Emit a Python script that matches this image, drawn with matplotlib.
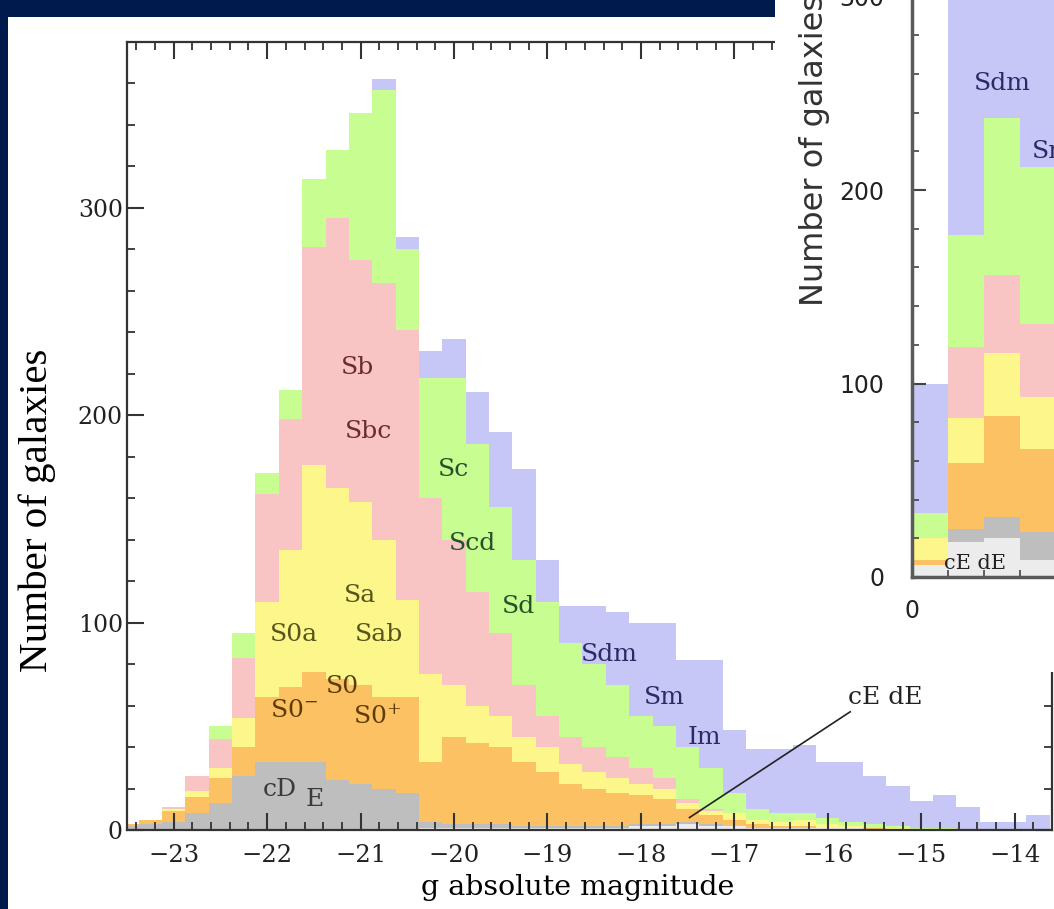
import matplotlib.pyplot as plt
import numpy as np
from matplotlib.patches import Rectangle
from matplotlib.ticker import MultipleLocator

plt.rcParams['font.family'] = 'DejaVu Serif'
plt.rcParams['mathtext.fontset'] = 'dejavuserif'

# main histogram: bins of 0.25 mag, centres -23.5 ... -13.75
mag_centers = np.arange(-23.5, -13.74, 0.25)

n_dE = [0, 0, 0, 0, 0, 0, 0, 0, 0, 0, 0, 0, 0, 1, 1, 1, 1, 1, 1, 1,
        1, 1, 2, 2, 3, 2, 2, 1, 1, 1, 1, 1, 0, 0, 0, 0, 0, 0, 0, 0]
n_E = [2, 3, 4, 8, 13, 26, 33, 33, 33, 24, 22, 20, 18, 3, 2, 2, 2, 1, 1, 1,
       1, 1, 1, 1, 1, 1, 0, 0, 0, 0, 0, 0, 0, 0, 0, 0, 0, 0, 0, 0]
n_S0 = [1, 2, 5, 8, 12, 14, 31, 36, 43, 49, 48, 44, 46, 29, 42, 39, 37, 31, 26, 20,
        18, 16, 14, 12, 6, 4, 3, 2, 1, 1, 0, 0, 1, 0, 0, 0, 0, 0, 0, 0]
n_Sa = [0, 0, 1, 3, 5, 14, 46, 66, 100, 92, 88, 76, 47, 42, 25, 18, 15, 12, 12, 10,
        8, 7, 5, 5, 3, 2, 3, 2, 2, 3, 2, 1, 0, 1, 0, 0, 0, 0, 0, 0]
n_Sb = [0, 0, 1, 7, 14, 29, 52, 63, 105, 130, 117, 124, 130, 85, 70, 55, 40, 25, 15, 13,
        12, 10, 8, 5, 2, 1, 0, 0, 0, 0, 0, 0, 0, 0, 0, 0, 0, 0, 0, 0]
n_Sc = [0, 0, 0, 0, 6, 12, 10, 14, 33, 33, 71, 93, 39, 58, 78, 71, 61, 60, 55, 45,
        40, 35, 25, 25, 25, 20, 10, 5, 4, 3, 3, 2, 2, 1, 1, 1, 0, 0, 0, 0]
n_Sdm = [0, 0, 0, 0, 0, 0, 0, 0, 0, 0, 0, 5, 6, 13, 19, 25, 36, 44, 20, 18,
         28, 35, 45, 50, 42, 52, 30, 29, 31, 33, 27, 29, 23, 19, 13, 16, 11, 4, 4, 7]

layer_names = ["cE dE", "E", "S0", "Sa", "Sb", "Sc", "Sdm"]
layer_colors = ["#ececec", "#bebebe", "#fcc163", "#fdf68b", "#f8c4c4", "#c8fd91", "#c6c6f7"]
layer_counts = [n_dE, n_E, n_S0, n_Sa, n_Sb, n_Sc, n_Sdm]

# inset histogram (only the first bins are visible)
inset_centers = [0.5, 1.5, 2.5, 3.5]
in_dE = [6, 18, 20, 9]
in_E = [0, 7, 11, 14]
in_S0 = [3, 34, 52, 43]
in_Sa = [11, 23, 33, 27]
in_Sb = [0, 37, 40, 38]
in_Sc = [13, 58, 81, 81]
in_Sdm = [67, 150, 120, 120]
inset_counts = [in_dE, in_E, in_S0, in_Sa, in_Sb, in_Sc, in_Sdm]

# type labels: (text, x, y, colour)
type_labels = [
    ("Sb", -21.03, 223, "#6a2c2c"), ("Sbc", -20.92, 192, "#6a2c2c"),
    ("Sc", -20.01, 174, "#25502a"), ("Scd", -19.80, 138, "#25502a"),
    ("Sd", -19.31, 108, "#25502a"),
    ("Sa", -21.01, 113, "#56551c"), ("S0a", -21.71, 94.5, "#56551c"),
    ("Sab", -20.80, 94.5, "#56551c"),
    ("S0", -21.19, 69, "#5e3c08"), ("S0$^{-}$", -21.71, 57.5, "#5e3c08"),
    ("S0$^{+}$", -20.82, 54.5, "#5e3c08"),
    ("cD", -21.86, 19.5, "#3a3a3a"), ("E", -21.49, 14.5, "#3a3a3a"),
    ("Sdm", -18.34, 84.5, "#2a2a66"), ("Sm", -17.75, 64, "#2a2a66"),
    ("Im", -17.32, 44.5, "#2a2a66"),
]

fig = plt.figure(figsize=(10.54, 9.09), dpi=100)
ax = fig.add_axes([127 / 1054, 1 - 830 / 909, 925 / 1054, 788 / 909])

bottom = np.zeros(len(mag_centers))
for name, col, cnt in zip(layer_names, layer_colors, layer_counts):
    ax.bar(mag_centers, cnt, width=0.25, bottom=bottom, color=col, linewidth=0, label=name)
    bottom += np.array(cnt)

for txt, x, y, c in type_labels:
    ax.text(x, y, txt, ha='center', va='center', fontsize=18, color=c)
ax.text(-15.39, 64, "cE dE", ha='center', va='center', fontsize=18, color="#222222")
ax.plot([-15.76, -17.48], [57, 6], color="#222222", lw=1.2)

ax.set_xlim(-23.5, -13.6)
ax.set_ylim(0, 380)
ax.xaxis.set_major_locator(MultipleLocator(1))
ax.xaxis.set_minor_locator(MultipleLocator(0.2))
ax.yaxis.set_major_locator(MultipleLocator(100))
ax.yaxis.set_minor_locator(MultipleLocator(20))
ax.tick_params(which='both', direction='in', top=True, right=True, colors='#333333', labelcolor='#222222')
ax.tick_params(which='major', length=12, width=1.5)
ax.tick_params(which='minor', length=6, width=1.3)
ax.tick_params(axis='x', which='major', labelsize=17.5, pad=10)
ax.tick_params(axis='y', which='major', labelsize=17, pad=3)
for sp in ax.spines.values():
    sp.set_linewidth(1.6)
    sp.set_color('#333333')
ax.set_xlabel("g absolute magnitude", fontsize=20.5)
ax.xaxis.set_label_coords(0.4876, -0.056)
ax.set_ylabel("Number of galaxies", fontsize=29.5, family='Liberation Serif')
ax.yaxis.set_label_coords(-0.077, 0.406)

# white panel of the overlapping inset
fig.patches.append(Rectangle((775 / 1054, 1 - 672 / 909), 1, 1, transform=fig.transFigure,
                             facecolor='white', edgecolor='none', zorder=1))

ins = fig.add_axes([912 / 1054, 1 - 577 / 909, 288 / 1054, 774 / 909], zorder=2)
ins.patch.set_alpha(0)
bottom = np.zeros(len(inset_centers))
for col, cnt in zip(layer_colors, inset_counts):
    ins.bar(inset_centers, cnt, width=1.0, bottom=bottom, color=col, linewidth=0)
    bottom += np.array(cnt)
ins.set_xlim(0, 8)
ins.set_ylim(0, 400)
ins.xaxis.set_major_locator(MultipleLocator(5))
ins.xaxis.set_minor_locator(MultipleLocator(1))
ins.yaxis.set_major_locator(MultipleLocator(100))
ins.yaxis.set_minor_locator(MultipleLocator(20))
ins.tick_params(which='both', direction='in', colors='#444444', labelcolor='#222222')
ins.tick_params(which='major', length=10, width=1.5, labelsize=17)
ins.tick_params(axis='y', which='major', pad=20)
ins.tick_params(axis='x', which='major', pad=16)
ins.tick_params(which='minor', length=5, width=1.2)
for lab in ins.get_xticklabels() + ins.get_yticklabels():
    lab.set_family('DejaVu Sans')
for sp in ins.spines.values():
    sp.set_linewidth(2.5)
    sp.set_color('#5a5a5a')
fig.text(815 / 1054, 1 - 150 / 909, "Number of galaxies", rotation=90, ha='center', va='center',
         fontsize=23, family='DejaVu Sans', color='#333333', zorder=3)
ins.text(2.5, 255, "Sdm", ha='center', va='center', fontsize=18, color="#2a2a66")
ins.text(3.9, 220, "Sm", ha='center', va='center', fontsize=18, color="#2a2a66")
ins.text(1.75, 7, "cE dE", ha='center', va='center', fontsize=15, color="#222222")

# dark frame of the original slide
navy = "#001a4e"
fig.patches.append(Rectangle((0, 0), 8 / 1054, 1, transform=fig.transFigure,
                             facecolor=navy, edgecolor='none', zorder=5))
fig.patches.append(Rectangle((0, 1 - 17 / 909), 775 / 1054, 17 / 909, transform=fig.transFigure,
                             facecolor=navy, edgecolor='none', zorder=5))

fig.savefig("out.png", dpi=100)
